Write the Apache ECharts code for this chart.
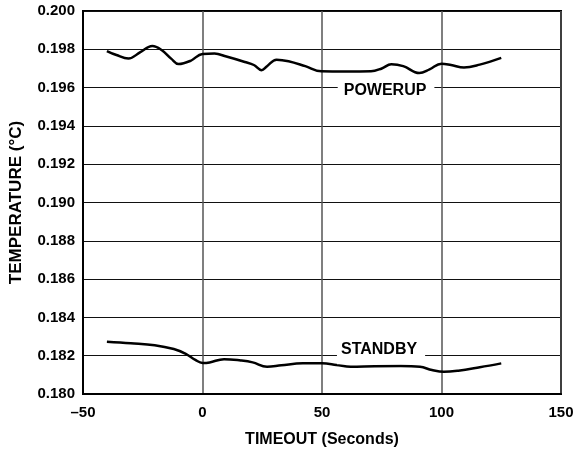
<!DOCTYPE html>
<html>
<head>
<meta charset="utf-8">
<script src="https://cdn.jsdelivr.net/npm/echarts@6/dist/echarts.min.js"></script>
<style>html,body{margin:0;padding:0;background:#fff}#c{width:577px;height:456px}</style>
</head>
<body>
<div id="c"></div>
<script>
var xTicks = [-50, 0, 50, 100, 150];
var yTicks = [0.180, 0.182, 0.184, 0.186, 0.188, 0.190, 0.192, 0.194, 0.196, 0.198, 0.200];

var powerupX = [-40, -36, -31, -26, -21, -17, -13, -10, -5, 0, 5, 10, 17.7, 21.5, 24.7, 27, 31, 36, 43, 49.7, 60, 70.5, 75, 79, 84, 90.7, 95, 100, 104, 109.4, 116, 125];
var powerupY = [0.19791, 0.19770, 0.19752, 0.19785, 0.19817, 0.19795, 0.19750, 0.19723, 0.19740, 0.19776, 0.19778, 0.19762, 0.19734, 0.19718, 0.19691, 0.19712, 0.19746, 0.19738, 0.19712, 0.19685, 0.19684, 0.19685, 0.19700, 0.19722, 0.19712, 0.19676, 0.19695, 0.19725, 0.19718, 0.19705, 0.19720, 0.19755];

var standbyX = [-40, -30, -20, -12, -7, -3, 0, 3, 9, 16, 21, 27, 33, 42, 50, 56, 62, 72, 83, 91, 96, 101, 107, 116, 125];
var standbyY = [0.18273, 0.18265, 0.18255, 0.18235, 0.18210, 0.18178, 0.18162, 0.18165, 0.18182, 0.18175, 0.18165, 0.18142, 0.18150, 0.18160, 0.18160, 0.18152, 0.18142, 0.18145, 0.18146, 0.18142, 0.18125, 0.18116, 0.18122, 0.18140, 0.18160];

var curveLabels = ['POWERUP', 'STANDBY'];
var labelX = [76.8, 74.7];
var labelY = [0.196, 0.182];

function pairs(xs, ys) { return xs.map(function (x, i) { return [x, ys[i]]; }); }

var FONT = '"Liberation Sans", Arial, Helvetica, sans-serif';
var chart = echarts.init(document.getElementById('c'), null, {renderer: 'canvas'});
chart.setOption({
  backgroundColor: '#fff',
  animation: false,
  grid: {left: 81, top: 11, width: 480, height: 383, show: true, borderColor: '#000', borderWidth: 2, backgroundColor: 'transparent'},
  xAxis: {
    type: 'value', min: xTicks[0], max: xTicks[xTicks.length - 1], interval: 50,
    name: 'TIMEOUT (Seconds)', nameLocation: 'middle', nameGap: 38,
    nameTextStyle: {fontFamily: FONT, fontWeight: 'bold', fontSize: 16, color: '#000'},
    axisLine: {show: true, onZero: false, lineStyle: {color: '#000', width: 2}},
    axisTick: {show: false},
    axisLabel: {margin: 11, fontFamily: FONT, fontWeight: 'bold', fontSize: 15, color: '#000',
      formatter: function (v) { return v < 0 ? '\u2013' + Math.abs(v) : String(v); }},
    splitLine: {show: true, lineStyle: {color: '#555', width: 1.5}}
  },
  yAxis: {
    type: 'value', min: yTicks[0], max: yTicks[yTicks.length - 1], interval: 0.002,
    name: 'TEMPERATURE (\u00B0C)', nameLocation: 'middle', nameGap: 58,
    nameTextStyle: {fontFamily: FONT, fontWeight: 'bold', fontSize: 17, color: '#000'},
    axisLine: {show: true, onZero: false, lineStyle: {color: '#000', width: 2}},
    axisTick: {show: false},
    axisLabel: {margin: 8, fontFamily: FONT, fontWeight: 'bold', fontSize: 15, color: '#000',
      formatter: function (v) { return v.toFixed(3); }},
    splitLine: {show: true, lineStyle: {color: '#111', width: 1}}
  },
  series: [
    {type: 'line', data: pairs(powerupX, powerupY), smooth: 0.4, symbol: 'none', lineStyle: {color: '#000', width: 2.5}},
    {type: 'line', data: pairs(standbyX, standbyY), smooth: 0.4, symbol: 'none', lineStyle: {color: '#000', width: 2.5}},
    {type: 'scatter', symbolSize: 0, itemStyle: {color: '#000', opacity: 1}, z: 5, silent: true,
      data: [
        {value: [labelX[0], labelY[0]], label: {formatter: curveLabels[0], offset: [0, 3], padding: [3, 8, 3, 6]}},
        {value: [labelX[1], labelY[1]], label: {formatter: curveLabels[1], offset: [0, -6], padding: [3, 8, 10, 4]}}
      ],
      label: {show: true, position: 'inside', opacity: 1, fontFamily: FONT, fontWeight: 'bold', fontSize: 16, color: '#000', textBorderWidth: 0, backgroundColor: '#fff', lineHeight: 16}
    }
  ]
});
</script>
</body>
</html>
